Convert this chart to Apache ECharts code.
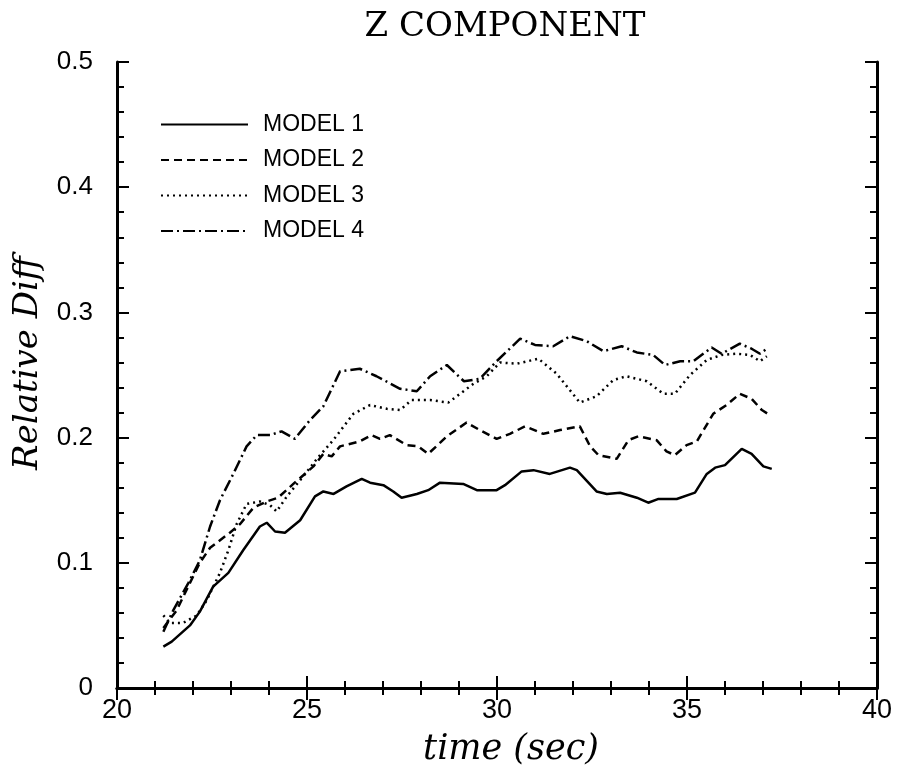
<!DOCTYPE html>
<html>
<head>
<meta charset="utf-8">
<script src="https://cdn.jsdelivr.net/npm/echarts@6/dist/echarts.min.js"></script>
<style>
  html, body { margin: 0; padding: 0; background: #fff; }
  #chart { width: 899px; height: 773px; }
</style>
</head>
<body>
<div id="chart"></div>
<script>
  // values
  const modelNames = ['MODEL 1', 'MODEL 2', 'MODEL 3', 'MODEL 4']

  const m1T = [21.22, 21.44, 21.92, 22.18, 22.53, 22.93, 23.32, 23.76, 23.94, 24.16, 24.42, 24.82, 25.21, 25.43, 25.70, 26.04, 26.44, 26.66, 27.01, 27.27, 27.49, 27.89, 28.19, 28.50, 29.11, 29.47, 29.99, 30.21, 30.65, 30.96, 31.39, 31.92, 32.10, 32.62, 32.89, 33.24, 33.68, 33.98, 34.25, 34.73, 35.21, 35.52, 35.74, 36.00, 36.44, 36.70, 37.01, 37.23]
  const m1V = [0.033, 0.037, 0.050, 0.061, 0.081, 0.092, 0.110, 0.129, 0.132, 0.125, 0.124, 0.134, 0.153, 0.157, 0.155, 0.161, 0.167, 0.164, 0.162, 0.157, 0.152, 0.155, 0.158, 0.164, 0.163, 0.158, 0.158, 0.162, 0.173, 0.174, 0.171, 0.176, 0.174, 0.157, 0.155, 0.156, 0.152, 0.148, 0.151, 0.151, 0.156, 0.171, 0.176, 0.178, 0.191, 0.187, 0.177, 0.175]

  const m2T = [21.22, 21.57, 21.92, 22.18, 22.45, 22.97, 23.24, 23.59, 23.94, 24.24, 24.64, 25.17, 25.43, 25.65, 25.87, 26.39, 26.70, 26.92, 27.18, 27.62, 27.93, 28.19, 28.68, 29.20, 29.55, 29.99, 30.34, 30.74, 31.22, 31.66, 32.18, 32.45, 32.67, 33.15, 33.46, 33.72, 34.20, 34.46, 34.68, 34.99, 35.26, 35.69, 36.04, 36.39, 36.70, 36.97, 37.18]
  const m2V = [0.048, 0.062, 0.084, 0.100, 0.112, 0.124, 0.131, 0.144, 0.149, 0.152, 0.163, 0.177, 0.187, 0.185, 0.193, 0.197, 0.202, 0.199, 0.202, 0.194, 0.193, 0.187, 0.201, 0.212, 0.206, 0.199, 0.203, 0.209, 0.203, 0.206, 0.209, 0.193, 0.186, 0.183, 0.198, 0.201, 0.198, 0.189, 0.186, 0.194, 0.197, 0.219, 0.226, 0.235, 0.231, 0.222, 0.218]

  const m3T = [21.22, 21.39, 21.74, 22.10, 22.36, 22.71, 22.93, 23.15, 23.41, 23.76, 24.03, 24.20, 24.47, 24.90, 25.26, 25.69, 26.22, 26.66, 27.10, 27.45, 27.75, 28.24, 28.72, 29.03, 29.38, 29.73, 30.08, 30.52, 31.09, 31.57, 32.18, 32.62, 33.06, 33.41, 33.94, 34.38, 34.68, 35.08, 35.52, 35.91, 36.31, 36.66, 36.92, 37.10]
  const m3V = [0.058, 0.052, 0.052, 0.058, 0.070, 0.092, 0.110, 0.131, 0.147, 0.149, 0.146, 0.141, 0.153, 0.169, 0.183, 0.198, 0.219, 0.226, 0.223, 0.222, 0.230, 0.230, 0.228, 0.235, 0.243, 0.249, 0.260, 0.259, 0.263, 0.251, 0.228, 0.233, 0.246, 0.249, 0.245, 0.235, 0.235, 0.250, 0.262, 0.266, 0.267, 0.266, 0.261, 0.265]

  const m4T = [21.22, 21.48, 21.88, 22.18, 22.45, 22.71, 23.06, 23.41, 23.68, 24.03, 24.33, 24.68, 25.08, 25.43, 25.87, 26.39, 26.83, 27.45, 27.89, 28.24, 28.68, 29.13, 29.55, 29.99, 30.61, 31.00, 31.48, 31.92, 32.36, 32.80, 33.28, 33.68, 34.11, 34.42, 34.82, 35.17, 35.65, 35.91, 36.39, 36.70, 36.92, 37.10]
  const m4V = [0.045, 0.062, 0.084, 0.102, 0.129, 0.150, 0.171, 0.193, 0.202, 0.202, 0.205, 0.199, 0.214, 0.225, 0.253, 0.255, 0.249, 0.239, 0.237, 0.249, 0.258, 0.245, 0.247, 0.261, 0.279, 0.274, 0.273, 0.281, 0.277, 0.269, 0.273, 0.268, 0.266, 0.258, 0.261, 0.261, 0.272, 0.267, 0.275, 0.271, 0.267, 0.271]

  const lineTypes = ['solid', [8, 5], [2, 4], [12, 4, 2, 4]]

  const zip = (t, v) => t.map((x, i) => [x, v[i]])
  const modelData = [zip(m1T, m1V), zip(m2T, m2V), zip(m3T, m3V), zip(m4T, m4V)]

  const chart = echarts.init(document.getElementById('chart'))

  const frameAxis = (extra) => Object.assign({
    type: 'value',
    axisLine: { show: true, lineStyle: { color: '#000', width: 3 } },
    axisTick: { show: true, inside: true, length: 12, lineStyle: { color: '#000', width: 2 } },
    minorTick: { show: true, splitNumber: 5, length: 7, lineStyle: { color: '#000', width: 2 } },
    splitLine: { show: false },
    minorSplitLine: { show: false }
  }, extra)

  chart.setOption({
    animation: false,
    backgroundColor: '#fff',
    title: {
      text: 'Z COMPONENT',
      left: 500,
      textAlign: 'center',
      top: 5,
      textStyle: {
        fontFamily: 'DejaVu Serif',
        fontWeight: 'normal',
        fontSize: 34,
        color: '#000'
      }
    },
    grid: { left: 117, right: 22, top: 62, bottom: 85 },
    legend: {
      orient: 'vertical',
      left: 155,
      top: 108,
      itemWidth: 87,
      itemHeight: 20,
      itemGap: 12.5,
      data: modelNames,
      itemStyle: { opacity: 0 },
      textStyle: {
        color: '#000',
        fontFamily: 'Liberation Sans',
        fontSize: 23,
        padding: [0, 0, 0, 10]
      }
    },
    xAxis: [
      frameAxis({
        position: 'bottom',
        min: 20, max: 40, interval: 5,
        name: 'time (sec)',
        nameLocation: 'middle',
        nameGap: 44,
        nameTextStyle: {
          fontFamily: 'DejaVu Serif',
          fontStyle: 'italic',
          fontSize: 35,
          color: '#000',
          padding: [0, 0, 0, 28]
        },
        axisLabel: { margin: 9, color: '#000', fontFamily: 'Liberation Sans', fontSize: 27 }
      }),
      frameAxis({
        position: 'top',
        min: 20, max: 40, interval: 5,
        axisLabel: { show: false }
      })
    ],
    yAxis: [
      frameAxis({
        position: 'left',
        min: 0, max: 0.5, interval: 0.1,
        name: 'Relative Diff',
        nameLocation: 'middle',
        nameGap: 72,
        nameTextStyle: {
          fontFamily: 'DejaVu Serif',
          fontStyle: 'italic',
          fontSize: 34,
          color: '#000',
          padding: [0, 0, 0, 24]
        },
        axisLabel: {
          margin: 24,
          color: '#000',
          fontFamily: 'Liberation Sans',
          fontSize: 26,
          formatter: v => (v === 0 ? '0' : v.toFixed(1))
        }
      }),
      frameAxis({
        position: 'right',
        min: 0, max: 0.5, interval: 0.1,
        axisLabel: { show: false }
      })
    ],
    series: modelData.map((d, i) => ({
      name: modelNames[i],
      type: 'line',
      xAxisIndex: 0,
      yAxisIndex: 0,
      data: d,
      symbol: 'none',
      smooth: false,
      lineStyle: { color: '#000', width: 2.5, type: lineTypes[i] },
      itemStyle: { color: '#000' }
    }))
  })
</script>
</body>
</html>
